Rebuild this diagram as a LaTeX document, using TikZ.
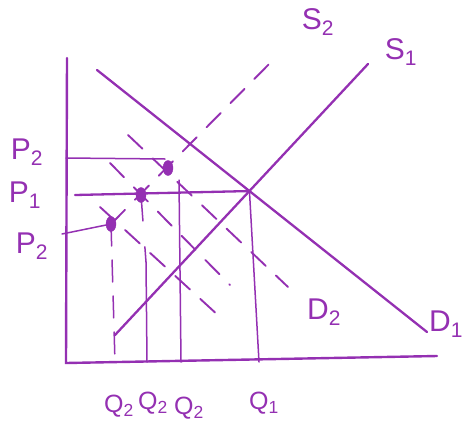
\documentclass[tikz,border=0pt]{standalone}
\usepackage{fontspec}
\setmainfont{Liberation Sans}
\usetikzlibrary{positioning,shapes.geometric}
\definecolor{pen}{RGB}{148,48,178}

\begin{document}
\begin{tikzpicture}[x=1pt,y=-1pt,color=pen,line cap=round,
  axis/.style={line width=2.4pt},
  curve/.style={line width=2.3pt},
  guide/.style={line width=1.5pt},
  shifted/.style={line width=1.9pt,dash pattern=on 20pt off 14pt},
  spot/.style={ellipse,fill=pen,draw=pen,inner sep=0pt,minimum width=10pt,minimum height=15pt},
  lab/.style={font=\fontsize{30}{32}\selectfont,text=pen,inner sep=0pt},
  qlab/.style={lab,font=\fontsize{25}{27}\selectfont}]
\useasboundingbox (0,0) rectangle (462,439);

% Axes (picture is in pixels, y grows downwards).
\coordinate (yTop) at (67,58);
\coordinate (origin) at (66,363);
\coordinate (xEnd) at (437,356);
\draw[axis] (yTop)--(origin)--(xEnd);

% Original demand D1 and supply S1.
\coordinate (dOneTop) at (97,70);
\coordinate (dOneEnd) at (427,332);
\coordinate (sOneLow) at (115,335);
\coordinate (sOneTop) at (368,64);
\draw[curve] (dOneTop)--(dOneEnd);
\draw[curve] (sOneLow)--(sOneTop);
\coordinate (eqOne) at (intersection of dOneTop--dOneEnd and sOneLow--sOneTop);
\node[lab] (dOneLab) at (446,324) {D\textsubscript{1}};
\node[lab] (sOneLab) at (401,52) {S\textsubscript{1}};

% Equilibrium points on the shifted supply S2.
\node[spot] (eqLow) at (111,224) {};
\node[spot] (eqMid) at (141,195) {};
\node[spot] (eqHigh) at (168,168) {};
\coordinate (sTwoTop) at (278,55);
\draw[shifted] (eqLow.center)--(sTwoTop);
\node[lab] (sTwoLab) at (318,22) {S\textsubscript{2}};

% Shifted demand curves, one through each point.
\coordinate (dHighA) at (128,135);
\coordinate (dHighB) at (288,287);
\coordinate (dMidA) at (110,163);
\coordinate (dMidB) at (230,285);
\coordinate (dLowA) at (100,207);
\coordinate (dLowB) at (220,317);
\draw[shifted] (dHighA)--(dHighB);
\draw[shifted] (dMidA)--(dMidB);
\draw[shifted] (dLowA)--(dLowB);
\node[lab] (dTwoLab) at (324,312) {D\textsubscript{2}};

% Price lines.
\coordinate (pHiStart) at (66,158);
\coordinate (pHiEnd) at (165,159);
\coordinate (pOneStart) at (75,195);
\coordinate (pLowStart) at (62,234);
\draw[guide] (pHiStart)--(pHiEnd);
\draw[curve] (pOneStart)--(eqOne);
\draw[guide] (pLowStart)--(eqLow.center);
\node[lab] (pHiLab) at (27,152) {P\textsubscript{2}};
\node[lab] (pOneLab) at (25,195) {P\textsubscript{1}};
\node[lab] (pLowLab) at (32,246) {P\textsubscript{2}};

% Quantity lines.
\coordinate (qOneFoot) at (259,362);
\draw[guide] (eqOne)--(qOneFoot);
\coordinate (qHighTop) at (179,180);
\coordinate (qHighFoot) at (181,362);
\draw[guide] (qHighTop)--(qHighFoot);
\coordinate (qMidBreak) at (146,262);
\coordinate (qMidFoot) at (147,362);
\draw[guide,dash pattern=on 26pt off 26pt] (eqMid.center)--(qMidBreak);
\draw[guide] (qMidBreak)--(qMidFoot);
\coordinate (qLowFoot) at (115,362);
\draw[guide,dash pattern=on 22pt off 14pt] (eqLow.center)--(qLowFoot);
\node[qlab] (qLowLab) at (119,406) {Q\textsubscript{2}};
\node[qlab] (qMidLab) at (153,403) {Q\textsubscript{2}};
\node[qlab] (qHighLab) at (189,408) {Q\textsubscript{2}};
\node[qlab] (qOneLab) at (264,403) {Q\textsubscript{1}};
\end{tikzpicture}
\end{document}
